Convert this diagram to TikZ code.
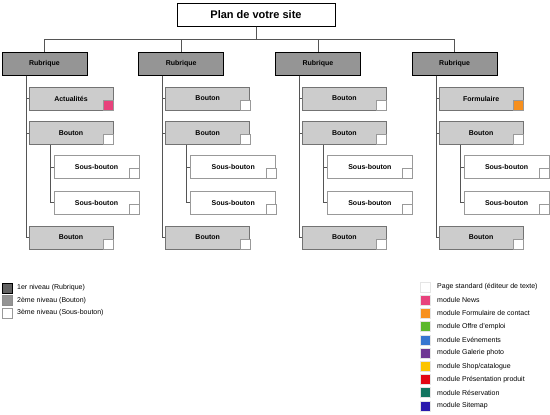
\documentclass[tikz,border=0pt]{standalone}
\usepackage{fontspec}
\setmainfont{Liberation Sans}
\definecolor{rubgris}{HTML}{959595}
\definecolor{boutgris}{HTML}{CCCCCC}
\definecolor{lignegris}{HTML}{555555}
\definecolor{modnews}{HTML}{E8427C}
\definecolor{modform}{HTML}{F7901E}
\definecolor{modoffre}{HTML}{5CB82C}
\definecolor{modevent}{HTML}{3776D0}
\definecolor{modgal}{HTML}{6E3693}
\definecolor{modshop}{HTML}{FCC400}
\definecolor{modpres}{HTML}{E30613}
\definecolor{modresa}{HTML}{127560}
\definecolor{modsite}{HTML}{2A1AAD}
\begin{document}
\begin{tikzpicture}[x=1pt,y=-1pt,every node/.style={font=\fontsize{7}{8}\selectfont\bfseries,align=center},
  titre/.style={draw=black,line width=1pt,fill=white,minimum width=158pt,minimum height=23pt,inner sep=0pt,font=\fontsize{11}{13}\selectfont\bfseries},
  rubrique/.style={draw=black,line width=1pt,fill=rubgris,minimum width=85pt,minimum height=23pt,inner sep=0pt},
  bouton/.style={draw=black!55,line width=0.8pt,fill=boutgris,minimum width=84pt,minimum height=23pt,inner sep=0pt},
  sousbouton/.style={draw=black!40,line width=0.8pt,fill=white,minimum width=85pt,minimum height=23pt,inner sep=0pt},
  carre/.style={draw=black!40,line width=0.6pt,minimum size=10pt,inner sep=0pt},
  legende/.style={anchor=west,font=\fontsize{7}{8}\selectfont,inner sep=0pt},
  lien/.style={draw=lignegris,line width=0.8pt}]
\useasboundingbox (0,0) rectangle (550,415);
\node[titre] (t) at (256,14.5) {Plan de votre site};
\foreach \i/\tit/\mod in {0/Actualités/modnews,1/Bouton/white,2/Bouton/white,3/Formulaire/modform}{
  \node[rubrique] (r\i) at (44.5+136.7*\i,63.5) {Rubrique};
  \node[bouton] (ba\i) at (71+136.7*\i,98.5) {\tit};
  \node[bouton] (bb\i) at (71+136.7*\i,133) {Bouton};
  \node[sousbouton] (sa\i) at (96.5+136.7*\i,167) {Sous-bouton};
  \node[sousbouton] (sb\i) at (96.5+136.7*\i,202.5) {Sous-bouton};
  \node[bouton] (bc\i) at (71+136.7*\i,237.5) {Bouton};
  \node[carre,fill=\mod,anchor=south east] (qa\i) at (ba\i.south east) {};
  \node[carre,fill=white,anchor=south east] (qb\i) at (bb\i.south east) {};
  \node[carre,fill=white,anchor=south east] (qc\i) at (sa\i.south east) {};
  \node[carre,fill=white,anchor=south east] (qd\i) at (sb\i.south east) {};
  \node[carre,fill=white,anchor=south east] (qe\i) at (bc\i.south east) {};
  \coordinate (k\i) at ([xshift=-18.5pt]r\i.south);
  \coordinate (m\i) at ([xshift=-21pt]bb\i.south);
  \draw[lien] (t.south) -- ++(0,12.5) -| (r\i.north);
  \draw[lien] (k\i) |- (ba\i.west);
  \draw[lien] (k\i) |- (bb\i.west);
  \draw[lien] (k\i) |- (bc\i.west);
  \draw[lien] (m\i) |- (sa\i.west);
  \draw[lien] (m\i) |- (sb\i.west);
}
% niveaux
\node[carre,draw=black,fill=black!62] (n1) at (7.5,288) {};
\node[carre,draw=black!45,fill=black!42] (n2) at (7.5,300.5) {};
\node[carre,fill=white] (n3) at (7.5,313) {};
\node[legende] at (17,288) {1er niveau (Rubrique)};
\node[legende] at (17,300.5) {2ème niveau (Bouton)};
\node[legende] at (17,313) {3ème niveau (Sous-bouton)};
% modules
\foreach \j/\mod/\txt in {0/white/Page standard (éditeur de texte),1/modnews/module News,2/modform/module Formulaire de contact,3/modoffre/module Offre d'emploi,4/modevent/module Evénements,5/modgal/module Galerie photo,6/modshop/{module Shop/catalogue},7/modpres/module Présentation produit,8/modresa/module Réservation,9/modsite/module Sitemap}{
  \node[carre,draw=white!90!black,fill=\mod] (m\j) at (425.5,287+13.2*\j) {};
  \node[legende] (lm\j) at (437,287+13.2*\j) {\txt};
}
\end{tikzpicture}
\end{document}
